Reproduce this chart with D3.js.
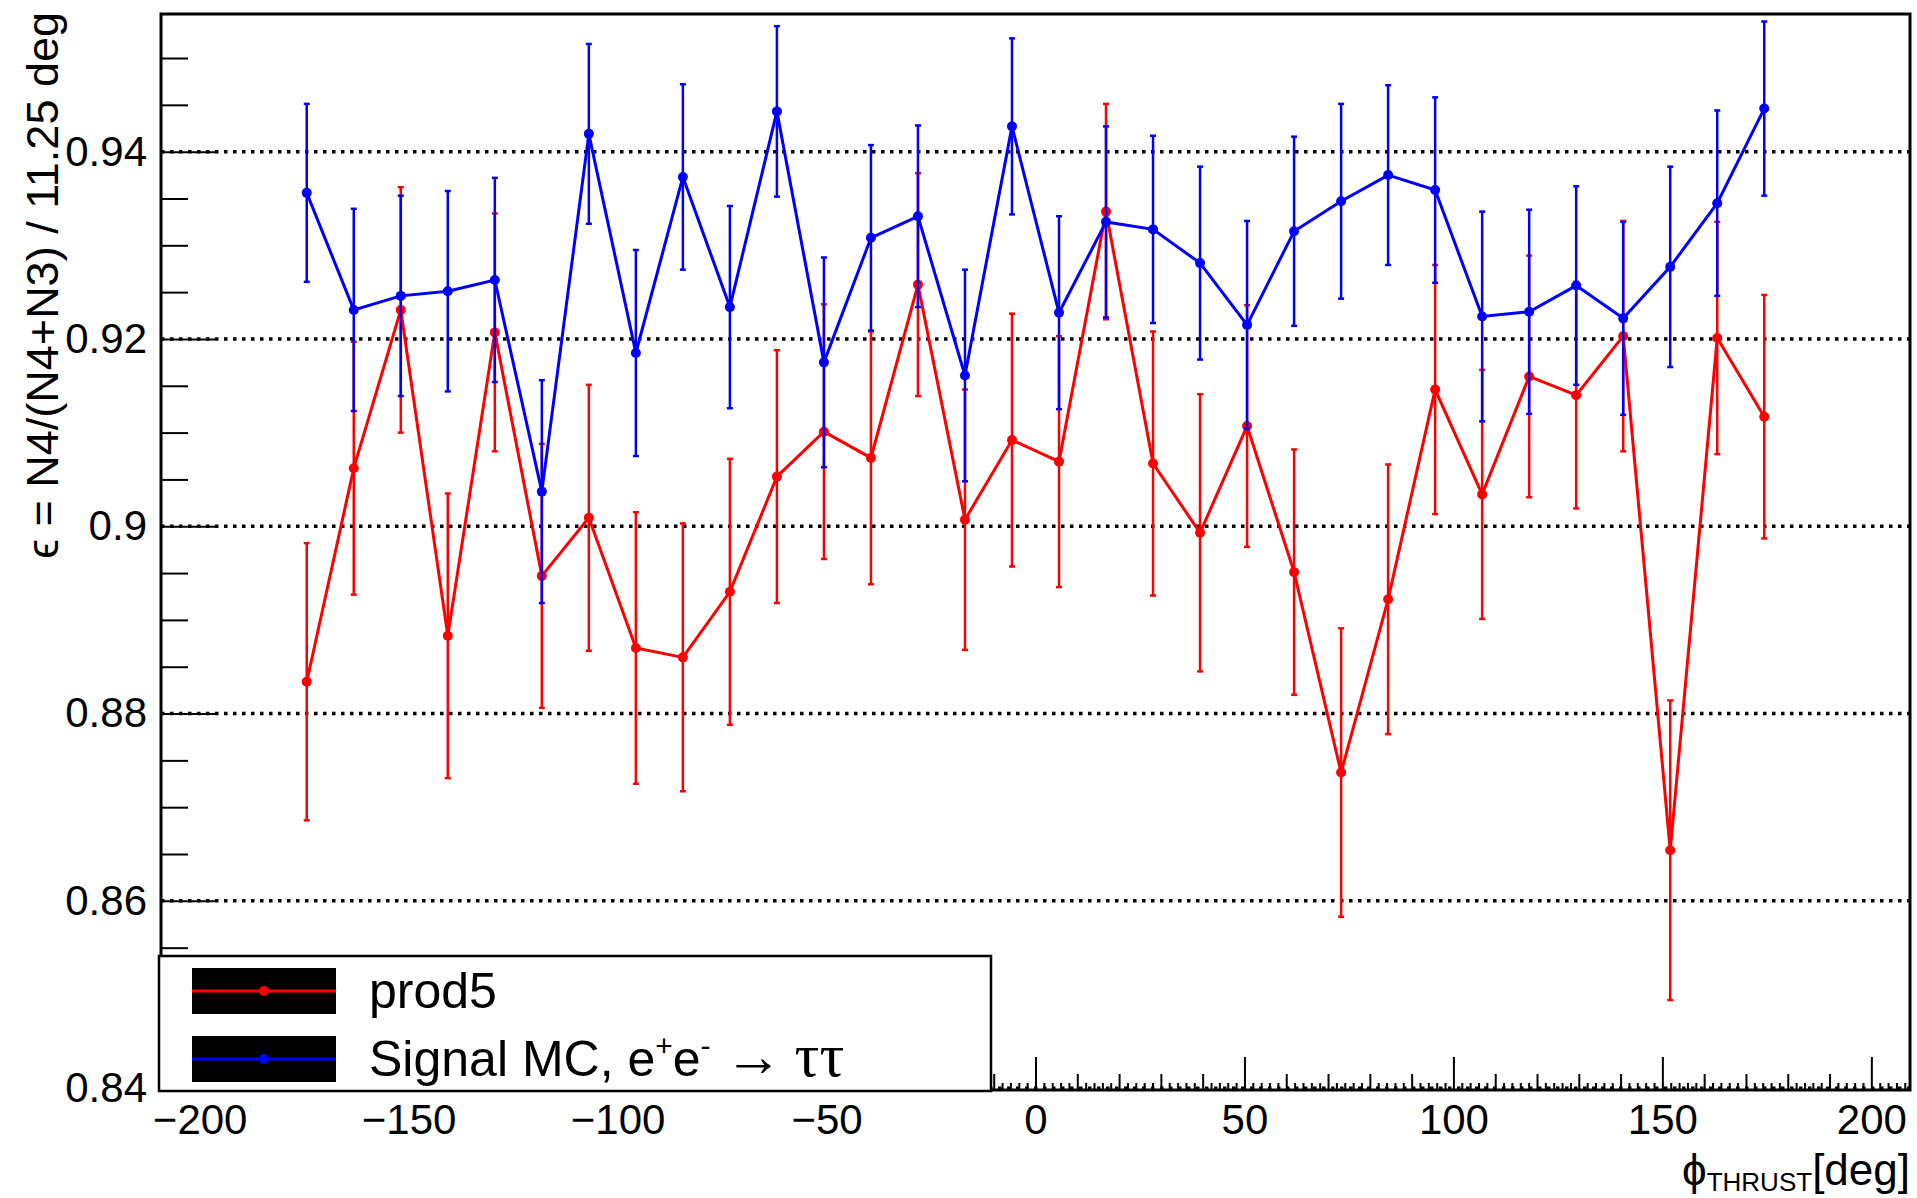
<!DOCTYPE html>
<html>
<head>
<meta charset="utf-8">
<script src="https://cdn.jsdelivr.net/npm/d3@7"></script>
<style>
  body { margin: 0; background: #fff; }
  svg { display: block; }
  text { font-family: "Liberation Sans", Arial, Helvetica, sans-serif; fill: #000; }
</style>
</head>
<body>
<svg width="1917" height="1198"></svg>
<script>
// bin centres of phi_THRUST (11.25 deg bins)
const phiDeg = [-174.375, -163.125, -151.875, -140.625, -129.375, -118.125, -106.875, -95.625,
  -84.375, -73.125, -61.875, -50.625, -39.375, -28.125, -16.875, -5.625,
  5.625, 16.875, 28.125, 39.375, 50.625, 61.875, 73.125, 84.375,
  95.625, 106.875, 118.125, 129.375, 140.625, 151.875, 163.125, 174.375];

// prod5 (red)
const prod5Eff = [0.8834, 0.9062, 0.9231, 0.8883, 0.9207, 0.8947, 0.9009, 0.8870,
  0.8860, 0.8930, 0.9053, 0.9101, 0.9073, 0.9258, 0.9007, 0.9092,
  0.9069, 0.9336, 0.9067, 0.8993, 0.9107, 0.8951, 0.8737, 0.8922,
  0.9146, 0.9034, 0.9160, 0.9140, 0.9203, 0.8654, 0.9201, 0.9117];
const prod5Err = [0.0148, 0.0135, 0.0131, 0.0152, 0.0127, 0.0141, 0.0142, 0.0145,
  0.0143, 0.0142, 0.0135, 0.0136, 0.0135, 0.0119, 0.0139, 0.0135,
  0.0134, 0.0115, 0.0141, 0.0148, 0.0129, 0.0131, 0.0154, 0.0144,
  0.0133, 0.0133, 0.0129, 0.0121, 0.0123, 0.0160, 0.0124, 0.0130];

// Signal MC (blue)
const signalEff = [0.9356, 0.9231, 0.9246, 0.9251, 0.9263, 0.9037, 0.9419, 0.9185,
  0.9373, 0.9234, 0.9443, 0.9175, 0.9308, 0.9331, 0.9161, 0.9427,
  0.9228, 0.9325, 0.9317, 0.9281, 0.9215, 0.9315, 0.9347, 0.9375,
  0.9359, 0.9224, 0.9229, 0.9257, 0.9222, 0.9277, 0.9345, 0.9446];
const signalErr = [0.0095, 0.0108, 0.0107, 0.0107, 0.0109, 0.0119, 0.0096, 0.0110,
  0.0099, 0.0108, 0.0091, 0.0112, 0.0099, 0.0097, 0.0113, 0.0094,
  0.0103, 0.0102, 0.0100, 0.0103, 0.0111, 0.0101, 0.0104, 0.0096,
  0.0099, 0.0112, 0.0109, 0.0106, 0.0103, 0.0107, 0.0099, 0.0093];

const yMajorTicks = [0.84, 0.86, 0.88, 0.9, 0.92, 0.94];
const xMajorTicks = [-200, -150, -100, -50, 0, 50, 100, 150, 200];

const svg = d3.select("svg");

// frame
const frame = { left: 161, right: 1910, top: 14, bottom: 1090 };

const x = d3.scaleLinear().domain([-209.25, 209.25]).range([frame.left, frame.right]);
const y = d3.scaleLinear().domain([0.8398, 0.9547]).range([frame.bottom, frame.top]);

// dotted horizontal grid
svg.append("g")
  .selectAll("line")
  .data(yMajorTicks)
  .enter()
  .append("line")
  .attr("x1", frame.left)
  .attr("x2", frame.right)
  .attr("y1", (d) => y(d))
  .attr("y2", (d) => y(d))
  .attr("stroke", "#000")
  .attr("stroke-width", 3.5)
  .attr("stroke-dasharray", "3.5,5.5");

const series = [
  { name: "prod5", color: "#ff0000", vals: prod5Eff, errs: prod5Err },
  { name: "signal", color: "#0000ff", vals: signalEff, errs: signalErr },
];

const line = d3
  .line()
  .x((d, i) => x(phiDeg[i]))
  .y((d) => y(d));

series.forEach((s) => {
  const g = svg.append("g");
  const pts = s.vals.map((v, i) => ({ phi: phiDeg[i], v: v, e: s.errs[i] }));

  // error bars
  g.selectAll(".bar")
    .data(pts)
    .enter()
    .append("line")
    .attr("x1", (d) => x(d.phi))
    .attr("x2", (d) => x(d.phi))
    .attr("y1", (d) => y(d.v - d.e))
    .attr("y2", (d) => y(d.v + d.e))
    .attr("stroke", s.color)
    .attr("stroke-width", 2.5);

  // small caps at the bar ends
  ["lo", "hi"].forEach((end) => {
    g.selectAll(".cap-" + end)
      .data(pts)
      .enter()
      .append("line")
      .attr("x1", (d) => x(d.phi) - 3)
      .attr("x2", (d) => x(d.phi) + 3)
      .attr("y1", (d) => y(end === "lo" ? d.v - d.e : d.v + d.e))
      .attr("y2", (d) => y(end === "lo" ? d.v - d.e : d.v + d.e))
      .attr("stroke", s.color)
      .attr("stroke-width", 2.5);
  });

  g.append("path")
    .attr("d", line(s.vals))
    .attr("fill", "none")
    .attr("stroke", s.color)
    .attr("stroke-width", 3);

  g.selectAll("circle")
    .data(pts)
    .enter()
    .append("circle")
    .attr("cx", (d) => x(d.phi))
    .attr("cy", (d) => y(d.v))
    .attr("r", 5)
    .attr("fill", s.color);
});

// frame box
svg.append("rect")
  .attr("x", frame.left)
  .attr("y", frame.top)
  .attr("width", frame.right - frame.left)
  .attr("height", frame.bottom - frame.top)
  .attr("fill", "none")
  .attr("stroke", "#000")
  .attr("stroke-width", 3);

// y axis: ticks pointing inside
const yAxisGroup = svg.append("g").attr("transform", `translate(${frame.left},0)`);
yAxisGroup.call(
  d3.axisLeft(y).tickValues(yMajorTicks).tickSizeInner(-54).tickSizeOuter(0).tickPadding(14)
    .tickFormat((d) => String(d))
);
const yMinor = svg.append("g").attr("transform", `translate(${frame.left},0)`);
yMinor.call(
  d3.axisLeft(y).tickValues(d3.range(0.845, 0.955, 0.005).filter((v) => Math.abs(v * 50 - Math.round(v * 50)) > 1e-6))
    .tickSizeInner(-27).tickSizeOuter(0).tickFormat("")
);

// x axis: ticks pointing up
const xAxisGroup = svg.append("g").attr("transform", `translate(0,${frame.bottom})`);
xAxisGroup.call(
  d3.axisBottom(x).tickValues(xMajorTicks).tickSizeInner(-33).tickSizeOuter(0).tickPadding(14)
);
const xMinor = svg.append("g").attr("transform", `translate(0,${frame.bottom})`);
xMinor.call(
  d3.axisBottom(x).tickValues(d3.range(-200, 201, 10).filter((v) => v % 50 !== 0))
    .tickSizeInner(-16).tickSizeOuter(0).tickFormat("")
);
const xTiny = svg.append("g").attr("transform", `translate(0,${frame.bottom})`);
xTiny.call(
  d3.axisBottom(x).tickValues(d3.range(-208, 209, 2).filter((v) => v % 10 !== 0))
    .tickSizeInner(-7).tickSizeOuter(0).tickFormat("")
);

svg.selectAll(".domain").remove();
svg.selectAll(".tick line").attr("stroke", "#000").attr("stroke-width", 2);
svg.selectAll(".tick text").attr("font-size", 42).attr("font-family", '"Liberation Sans", Arial, sans-serif').attr("fill", "#000");

// axis titles
svg.append("text")
  .attr("transform", "translate(58,12) rotate(-90)")
  .attr("text-anchor", "end")
  .attr("font-size", 45)
  .text("ϵ = N4/(N4+N3) / 11.25 deg");

const xTitle = svg.append("text")
  .attr("x", 1910)
  .attr("y", 1185)
  .attr("text-anchor", "end")
  .attr("font-size", 44);
xTitle.append("tspan").text("ϕ");
xTitle.append("tspan").attr("font-size", 26).attr("dy", 6).text("THRUST");
xTitle.append("tspan").attr("dy", -6).text("[deg]");

// legend
const legend = svg.append("g");
legend.append("rect")
  .attr("x", 159)
  .attr("y", 956)
  .attr("width", 832)
  .attr("height", 135)
  .attr("fill", "#fff")
  .attr("stroke", "#000")
  .attr("stroke-width", 2.5);

const rows = [
  { color: "#ff0000", cy: 991 },
  { color: "#0000ff", cy: 1059 },
];
rows.forEach((r) => {
  legend.append("rect")
    .attr("x", 192).attr("y", r.cy - 23).attr("width", 144).attr("height", 46)
    .attr("fill", "#000");
  legend.append("line")
    .attr("x1", 192).attr("x2", 336).attr("y1", r.cy).attr("y2", r.cy)
    .attr("stroke", r.color).attr("stroke-width", 3);
  legend.append("circle")
    .attr("cx", 264).attr("cy", r.cy).attr("r", 5).attr("fill", r.color);
});

legend.append("text")
  .attr("x", 369).attr("y", rows[0].cy + 17)
  .attr("font-size", 50)
  .text("prod5");

const sig = legend.append("text")
  .attr("x", 369).attr("y", rows[1].cy + 17)
  .attr("font-size", 50);
sig.append("tspan").text("Signal MC, e");
sig.append("tspan").attr("font-size", 30).attr("dy", -20).text("+");
sig.append("tspan").attr("dy", 20).text("e");
sig.append("tspan").attr("font-size", 30).attr("dy", -20).text("-");
sig.append("tspan").attr("dy", 20).attr("dx", 14)
  .attr("font-family", '"Liberation Serif", "DejaVu Serif", serif').attr("font-size", 58).text("\u2192");
sig.append("tspan").attr("dx", 12)
  .attr("font-family", '"Liberation Serif", "DejaVu Serif", serif').attr("font-size", 62).text("ττ");
</script>
</body>
</html>
